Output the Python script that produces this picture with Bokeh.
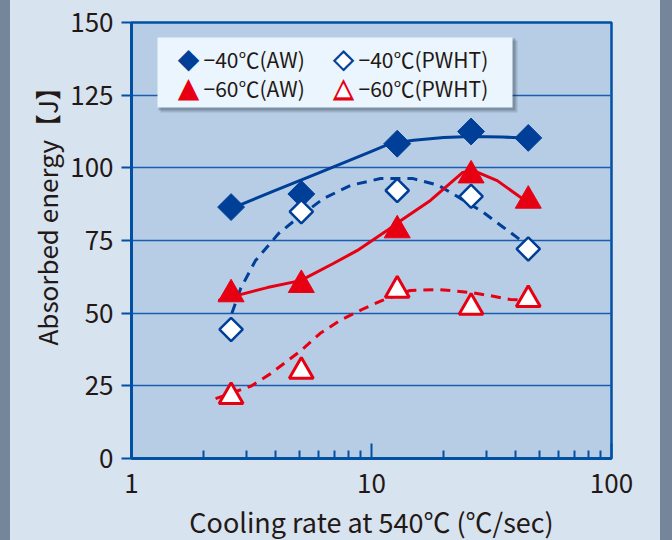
import numpy as np
from bokeh.plotting import figure
from bokeh.models import FixedTicker, PrintfTickFormatter, Range1d, BoxAnnotation, Label, Title
from bokeh.embed import file_html
from bokeh.resources import INLINE
from bokeh.core.templates import get_env

# ---- data ----
cooling_rate = [2.6, 5.1, 12.8, 26.0, 45.0]
e40_aw = [86.5, 91.0, 108.3, 112.5, 110.3]
e40_pwht = [44.4, 84.9, 92.2, 90.2, 72.1]
e60_aw = [56.5, 59.7, 78.5, 97.4, 88.7]
e60_pwht = [21.3, 30.0, 57.9, 52.0, 54.7]

# trend curves
fit40_aw_x = [2.6, 4.0, 6.0, 8.0, 10.0, 12.0, 15.0, 20.0, 26.0, 35.0, 45.0]
fit40_aw_y = [86.0, 92.3, 98.2, 102.4, 105.7, 108.4, 109.5, 110.4, 110.8, 110.6, 110.2]
fit40_pwht_x = [2.62, 2.85, 3.28, 4.1, 4.9, 6.3, 8.2, 10.9, 14.9, 19.0, 23.5, 29.3, 35.5, 40.5, 45.0]
fit40_pwht_y = [50.0, 58.5, 68.0, 77.4, 82.6, 89.4, 94.0, 96.3, 96.3, 94.0, 89.5, 84.6, 79.5, 76.0, 73.0]
fit60_aw_x = [2.3, 3.68, 5.06, 6.9, 8.7, 11.6, 12.8, 17.6, 24.0, 26.6, 33.4, 41.9, 46.0]
fit60_aw_y = [54.4, 58.8, 61.2, 67.0, 71.5, 78.4, 81.0, 88.8, 98.4, 99.0, 95.6, 89.8, 87.7]
fit60_pwht_x = [2.24, 3.13, 3.8, 5.06, 6.1, 7.4, 9.3, 11.1, 14.5, 19.3, 25.9, 31.3, 37.9, 45.0]
fit60_pwht_y = [20.6, 24.8, 29.2, 37.0, 43.0, 47.5, 51.6, 54.4, 57.8, 58.1, 57.1, 56.0, 54.7, 54.4]

y_ticks = [0, 25, 50, 75, 100, 125, 150]
x_ticks = [1, 10, 100]
x_minor = [2, 3, 4, 5, 6, 7, 8, 9, 20, 30, 40, 50, 60, 70, 80, 90]

legend_labels = ["−40℃(AW)", "−40℃(PWHT)", "−60℃(AW)", "−60℃(PWHT)"]
x_label = "Cooling rate at 540℃ (℃/sec)"
y_label = "Absorbed energy【J】"

# ---- styles ----
BLUE = "#003f98"
RED = "#e60012"
FRAME = "#0050a4"
GRID = "#1a5cae"
PANEL = "#b7cde6"
OUTER = "#d7e3ef"
TXT = "#231815"
FONT = "Noto Sans CJK JP"

p = figure(x_axis_type="log", x_range=Range1d(1, 100), y_range=Range1d(0, 150),
           frame_width=480, frame_height=436,
           min_border_left=121, min_border_right=49, min_border_top=22, min_border_bottom=82,
           output_backend="svg", toolbar_location=None,
           background_fill_color=PANEL, border_fill_color=OUTER)

p.outline_line_color = FRAME
p.outline_line_width = 2.5

# axes
p.xaxis.ticker = FixedTicker(ticks=x_ticks, minor_ticks=x_minor)
p.xaxis.formatter = PrintfTickFormatter(format="%d")
p.yaxis.ticker = FixedTicker(ticks=y_ticks, minor_ticks=[])
for ax in (p.xaxis, p.yaxis):
    ax.axis_line_color = FRAME
    ax.axis_line_width = 3
    ax.major_tick_line_color = FRAME
    ax.major_tick_line_width = 2
    ax.minor_tick_line_color = FRAME
    ax.minor_tick_line_width = 2
    ax.major_label_text_font = FONT
    ax.major_label_text_font_size = "26px"
    ax.major_label_text_color = TXT
    ax.axis_label_text_font = FONT
    ax.axis_label_text_font_style = "normal"
    ax.axis_label_text_color = TXT

p.xaxis.major_tick_in = 15
p.xaxis.major_tick_out = 0
p.xaxis.minor_tick_in = 8
p.xaxis.minor_tick_out = 0
p.xaxis.major_label_standoff = 15
p.xaxis.axis_label = x_label
p.xaxis.axis_label_text_font_size = "27px"
p.xaxis.axis_label_standoff = 6

p.yaxis.major_tick_in = 0
p.yaxis.major_tick_out = 10
p.yaxis.minor_tick_line_color = None
p.yaxis.major_label_standoff = 8

# y-axis title (sits a little above the frame centre, as in the original)
p.add_layout(Title(text=y_label, align="left", offset=113, vertical_align="bottom",
                   standoff=6, text_font=FONT, text_font_size="26px",
                   text_font_style="normal", text_color=TXT), "left")

p.xgrid.visible = False
p.ygrid.ticker = FixedTicker(ticks=y_ticks)
p.ygrid.grid_line_color = GRID
p.ygrid.grid_line_width = 1.5

# trend curves
p.line(fit40_aw_x, fit40_aw_y, line_color=BLUE, line_width=3)
p.line(fit40_pwht_x, fit40_pwht_y, line_color=BLUE, line_width=3, line_dash="10 7")
p.line(fit60_aw_x, fit60_aw_y, line_color=RED, line_width=3)
p.line(fit60_pwht_x, fit60_pwht_y, line_color=RED, line_width=3, line_dash="10 7")

# data markers
p.scatter(cooling_rate, e40_aw, marker="square", angle=np.pi / 4, size=19,
          fill_color=BLUE, line_color=BLUE, line_width=1)
p.scatter(cooling_rate, e40_pwht, marker="square", angle=np.pi / 4, size=16.5,
          fill_color="white", line_color=BLUE, line_width=2.5)
p.scatter(cooling_rate, e60_aw, marker="triangle", size=26,
          fill_color=RED, line_color=RED, line_width=1)
p.scatter(cooling_rate, e60_pwht, marker="triangle", size=24,
          fill_color="white", line_color=RED, line_width=3)

# legend box (screen units relative to the frame)
def box(l, r, t, b, color, alpha):
    p.add_layout(BoxAnnotation(left=l, right=r, top=t, bottom=b,
                               left_units="screen", right_units="screen",
                               top_units="screen", bottom_units="screen",
                               fill_color=color, fill_alpha=alpha, line_color=None))

box(29, 386, 418, 346, "#1a2530", 0.16)
box(27, 384, 420, 348, "#1a2530", 0.24)
box(26, 381, 421, 351, "#eaf5fd", 1.0)

rows = [400, 371]
mx = [57, 212]
tx = [72, 227]
MFONT = "DejaVu Sans"

def mark(x, y, ch, color, size, dy=0):
    p.add_layout(Label(x=x, y=y + dy, x_units="screen", y_units="screen", text=ch,
                       text_font=MFONT, text_font_size=f"{size}px", text_color=color,
                       text_align="center", text_baseline="middle"))

mark(mx[0], rows[0], "◆", BLUE, 28)
mark(mx[1], rows[0], "◆", BLUE, 28)
mark(mx[1], rows[0], "◆", "white", 20)
mark(mx[0], rows[1], "▲", RED, 28)
mark(mx[1], rows[1], "▲", RED, 28)
mark(mx[1], rows[1], "▲", "white", 18, dy=-1)

for i, lab in enumerate(legend_labels):
    r, c = divmod(i, 2)
    p.add_layout(Label(x=tx[c], y=rows[r], x_units="screen", y_units="screen", text=lab,
                       text_font=FONT, text_font_size="21px", text_color=TXT,
                       text_align="left", text_baseline="middle"))

tmpl = get_env().from_string("""{% extends base %}
{% block preamble %}<style>html,body{margin:0 !important;}body{padding:0 0 0 10px !important;}html{background:linear-gradient(to right,#75869a 0px,#75869a 10px,#d7e3ef 10px,#d7e3ef 660px,#75869a 660px);}</style>{% endblock %}""")

open("out.html", "w").write(file_html(p, INLINE, template=tmpl))
